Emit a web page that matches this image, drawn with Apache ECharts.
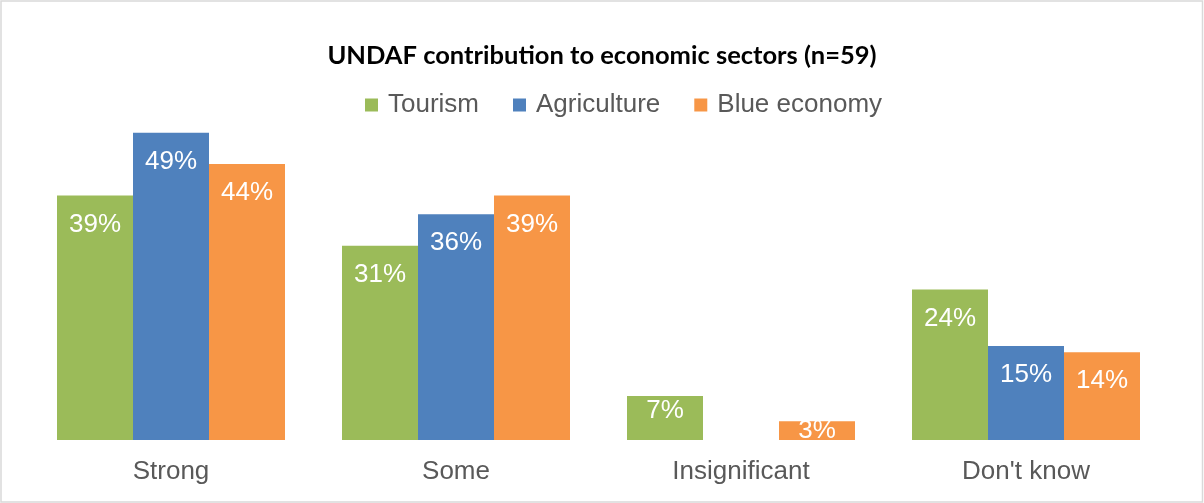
<!DOCTYPE html>
<html>
<head>
<meta charset="utf-8">
<script src="https://cdn.jsdelivr.net/npm/echarts@6/dist/echarts.min.js"></script>
<style>
  html, body { margin: 0; padding: 0; background: #fff; }
  #chart { width: 1204px; height: 503px; }
</style>
</head>
<body>
<div id="chart"></div>
<script>
// Survey responses (share of 59 respondents, %)
const categories = ['Strong', 'Some', 'Insignificant', "Don't know"];
const tourism = [39, 31, 7, 24];
const agriculture = [49, 36, 0, 15];
const blueEconomy = [44, 39, 3, 14];

const seriesNames = ['Tourism', 'Agriculture', 'Blue economy'];
const seriesColors = ['#9BBB59', '#4F81BD', '#F79646'];
const seriesValues = [tourism, agriculture, blueEconomy];

const FONT = '"Liberation Sans", Arial, sans-serif';

// Value labels sit just inside the top of each bar; short bars get them lower/centred.
function toItems(values) {
  return values.map(v => {
    const item = { value: v };
    if (v > 0 && v < 5) item.label = { position: 'inside' };
    else if (v > 0 && v < 10) item.label = { distance: 2 };
    return item;
  });
}

const chart = echarts.init(document.getElementById('chart'), null, { renderer: 'canvas' });

chart.setOption({
  backgroundColor: '#ffffff',
  animation: false,
  title: {
    text: 'UNDAF contribution to economic sectors (n=59)',
    left: 'center',
    top: 38,
    textStyle: { fontFamily: 'Lato, sans-serif', fontWeight: 'bold', fontSize: 25.5, color: '#000000' }
  },
  legend: {
    data: seriesNames,
    left: 360,
    top: 87,
    icon: 'rect',
    itemWidth: 13,
    itemHeight: 13,
    itemGap: 34,
    textStyle: { fontFamily: FONT, fontSize: 26, color: '#595959', padding: [0, 0, 0, 5] }
  },
  grid: { left: 28.5, right: 35.5, top: 126.5, bottom: 63, containLabel: false },
  xAxis: {
    type: 'category',
    data: categories,
    axisLine: { show: false },
    axisTick: { show: false },
    axisLabel: { fontFamily: FONT, fontSize: 26, color: '#595959', margin: 19 }
  },
  yAxis: {
    type: 'value',
    min: 0,
    max: 50,
    show: false,
    splitLine: { show: false }
  },
  series: seriesNames.map((name, i) => ({
    name: name,
    type: 'bar',
    barGap: '0%',
    barCategoryGap: '20%',
    itemStyle: { color: seriesColors[i] },
    label: {
      show: true,
      position: 'insideTop',
      distance: 16,
      color: '#ffffff',
      fontFamily: FONT,
      fontSize: 26,
      formatter: p => (p.value ? p.value + '%' : '')
    },
    data: toItems(seriesValues[i])
  })),
  graphic: [{
    type: 'rect',
    shape: { x: 1, y: 1, width: 1201.5, height: 501 },
    style: { fill: 'none', stroke: '#d9d9d9', lineWidth: 1.5 },
    silent: true
  }]
});
</script>
</body>
</html>
